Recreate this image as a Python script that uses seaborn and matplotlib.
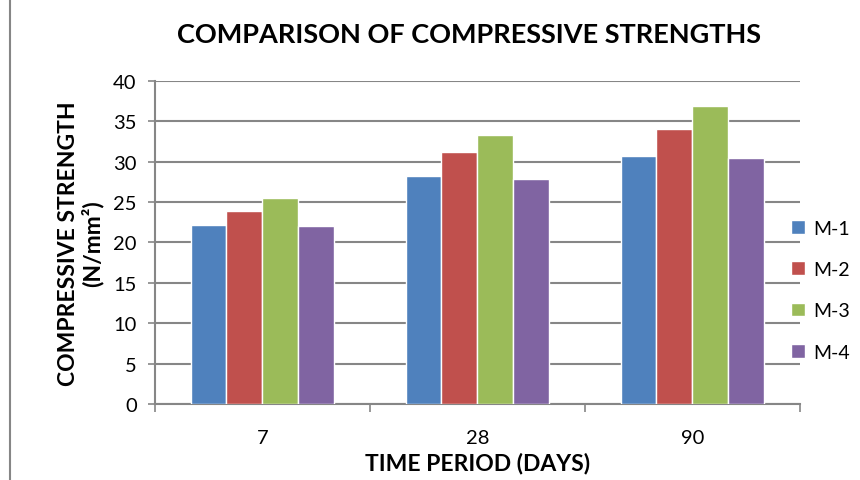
import numpy as np
import pandas as pd
import matplotlib
matplotlib.use("Agg")
import matplotlib.pyplot as plt
import seaborn as sns
from matplotlib.ticker import FixedLocator

# 데이터
days = ["7", "28", "90"]
mixes = ["M-1", "M-2", "M-3", "M-4"]
m1 = [22.2, 28.2, 30.7]
m2 = [23.9, 31.2, 34.0]
m3 = [25.5, 33.3, 36.9]
m4 = [22.0, 27.9, 30.4]
colors = ["#4F81BD", "#C0504D", "#9BBB59", "#8064A2"]

rows = []
for mix, vals in zip(mixes, [m1, m2, m3, m4]):
    for d, v in zip(days, vals):
        rows.append([d, mix, v])
df = pd.DataFrame(rows, columns=["days", "mix", "strength"])

sns.set_style("white")
plt.rcParams['font.family'] = ['Lato', 'DejaVu Sans']
plt.rcParams['text.color'] = 'black'
plt.rcParams['axes.labelcolor'] = 'black'

fig = plt.figure(figsize=(8.6, 4.81), dpi=100)
ax = fig.add_axes([0.180, 0.158, 0.750, 0.672])

sns.barplot(data=df, x="days", y="strength", hue="mix", order=days,
            hue_order=mixes, palette=colors, width=0.667, gap=0,
            saturation=1, errorbar=None, ax=ax, zorder=3)

ax.set_ylim(0, 40)
ax.set_yticks(np.arange(0, 41, 5))
ax.set_xlim(-0.5, 2.5)
ax.yaxis.grid(True, color="#868686", linewidth=1.5, zorder=0)
ax.xaxis.grid(False)
ax.set_axisbelow(True)

for s in ["top", "right"]:
    ax.spines[s].set_visible(False)
for s in ["left", "bottom"]:
    ax.spines[s].set_color("#868686")
    ax.spines[s].set_linewidth(1.5)

ax.tick_params(axis="y", direction="out", length=5, color="#868686",
               width=1.2, labelsize=14.5, left=True, pad=8, labelcolor="black")
ax.tick_params(axis="x", which="major", length=0, labelsize=14.5, pad=18,
               labelcolor="black")
ax.xaxis.set_minor_locator(FixedLocator([-0.5, 0.5, 1.5, 2.5]))
ax.tick_params(axis="x", which="minor", direction="out", length=6,
               color="#868686", width=1.2, bottom=True)

ax.set_xlabel("TIME PERIOD (DAYS)", fontsize=16.5, fontweight="bold", labelpad=4)
ax.set_ylabel("COMPRESSIVE STRENGTH\n(N/mm²)", fontsize=16.5,
              fontweight="bold", labelpad=7, linespacing=1.1)
fig.text(0.545, 0.928, "COMPARISON OF COMPRESSIVE STRENGTHS", fontsize=19.5,
         fontweight="bold", ha="center", va="center")

ax.legend(loc="center left", bbox_to_anchor=(0.975, 0.352), frameon=False,
          fontsize=14, handlelength=0.7, handleheight=0.7,
          labelspacing=1.25, handletextpad=0.4, borderaxespad=0)

# 차트 영역 왼쪽 테두리
fig.add_artist(plt.Line2D([0.012, 0.012], [0, 1], color="#868686",
                          linewidth=1.5, transform=fig.transFigure))

fig.savefig("out.png", dpi=100)
